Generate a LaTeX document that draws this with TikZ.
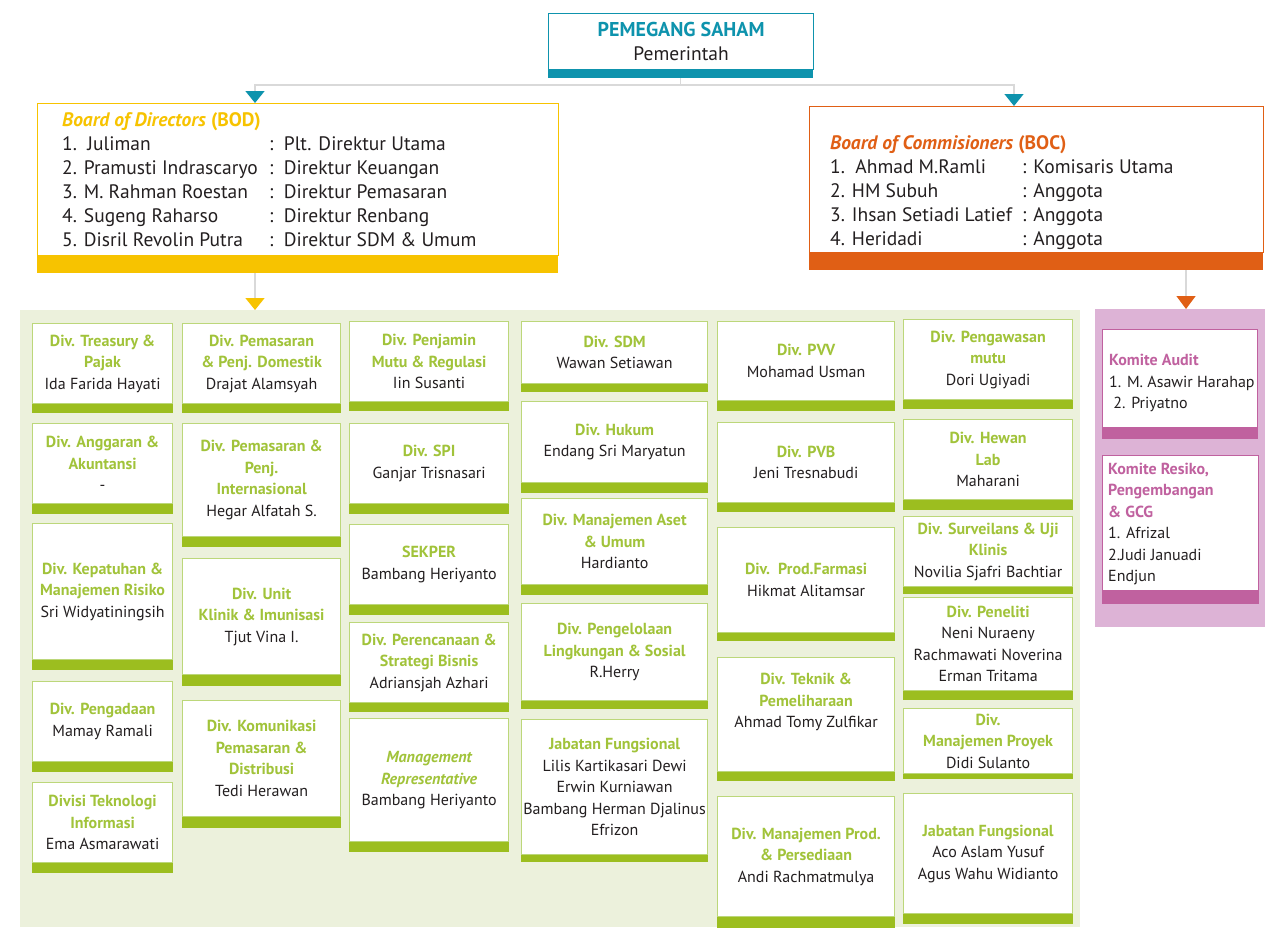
\documentclass[tikz,border=0pt]{standalone}
\usepackage{fontspec}
\setmainfont{PT Sans}
\usetikzlibrary{positioning, arrows.meta}

\definecolor{tealc}{HTML}{0E93AD}
\definecolor{yellowc}{HTML}{F7C300}
\definecolor{orangec}{HTML}{E05F15}
\definecolor{gtext}{HTML}{A1C33A}
\definecolor{gbar}{HTML}{9CBE1F}
\definecolor{gline}{HTML}{BCD77A}
\definecolor{gbg}{HTML}{ECF1DC}
\definecolor{pinkbg}{HTML}{DDB3D6}
\definecolor{pinkc}{HTML}{C0619F}
\definecolor{linec}{HTML}{D9D9D9}
\definecolor{inkc}{HTML}{231F20}

\tikzset{
  conn/.style={draw=linec, line width=1.5pt},
  divbox/.style={draw=gline, line width=1.2pt, fill=white, anchor=north west, align=center,
    inner sep=1pt, text=inkc, font=\fontsize{16}{21.5}\selectfont},
  bigbox/.style={line width=1.2pt, fill=white, anchor=north west, inner sep=0pt},
  kombox/.style={draw=pinkc, line width=1pt, fill=white, anchor=north west, inner sep=0pt},
  bar/.style={anchor=north west, inner sep=0pt, outer sep=0pt},
  listtext/.style={anchor=west, inner sep=0pt, align=left, text=inkc, font=\fontsize{19.5}{24}\selectfont},
  komtext/.style={anchor=west, inner sep=0pt, align=left, text=inkc, font=\fontsize{16}{21.5}\selectfont}
}

\newcommand{\gtl}[1]{\textcolor{gtext}{\bfseries #1}}
\newcommand{\gti}[1]{\textcolor{gtext}{\bfseries\itshape #1}}
\newcommand{\pkt}[1]{\textcolor{pinkc}{\bfseries #1}}
% [bar]{name}{top left}{width}{height}{text}
\newcommand{\divbox}[6][9]{%
  \node[divbox, minimum width=#4pt, minimum height=#5pt] (#2) at (#3) {#6};
  \fill[gbar] (#2.south west) rectangle ([yshift=-#1pt]#2.south east);
}

\begin{document}
\begin{tikzpicture}[x=1pt, y=-1pt]
\useasboundingbox (0,0) rectangle (1281,927);

% areas
\node[bar, fill=gbg, minimum width=1060pt, minimum height=617pt] (divarea) at (20,310) {};
\node[bar, fill=pinkbg, minimum width=170pt, minimum height=318pt] (komarea) at (1095,309) {};

% top
\node[bigbox, draw=tealc, align=center, text=inkc, font=\fontsize{19.5}{24}\selectfont,
  minimum width=265pt, minimum height=56pt] (top) at (548,13)
  {\textcolor{tealc}{\bfseries\fontsize{20}{24}\selectfont PEMEGANG SAHAM}\\Pemerintah};
\node[bar, fill=tealc, minimum width=265pt, minimum height=8pt] (topbar) at (top.south west) {};

% BOD
\node[bigbox, draw=yellowc, minimum width=521pt, minimum height=152pt] (bod) at (37,103) {};
\node[bar, fill=yellowc, minimum width=521pt, minimum height=17pt] (bodbar) at (bod.south west) {};
\node[listtext] (bodlist) at (62,182) {%
  \begin{tabular}{@{}p{207pt}@{}l@{}}
  \multicolumn{2}{@{}l@{}}{\textcolor{yellowc}{\bfseries\itshape Board of Directors} \textcolor{yellowc}{\bfseries (BOD)}}\\
  1.\ \ Juliman & :\ \ Plt. Direktur Utama\\
  2. Pramusti Indrascaryo & :\ \ Direktur Keuangan\\
  3. M. Rahman Roestan & :\ \ Direktur Pemasaran\\
  4. Sugeng Raharso & :\ \ Direktur Renbang\\
  5. Disril Revolin Putra & :\ \ Direktur SDM \& Umum
  \end{tabular}};

% BOC
\node[bigbox, draw=orangec, minimum width=454pt, minimum height=146pt] (boc) at (809,106) {};
\node[bar, fill=orangec, minimum width=454pt, minimum height=17pt] (bocbar) at (boc.south west) {};
\node[listtext] (boclist) at (830,193) {%
  \begin{tabular}{@{}p{192pt}@{}l@{}}
  \multicolumn{2}{@{}l@{}}{\textcolor{orangec}{\bfseries\itshape Board of Commisioners} \textcolor{orangec}{\bfseries (BOC)}}\\
  1.\ \ Ahmad M.Ramli & : Komisaris Utama\\
  2. HM Subuh & : Anggota\\
  3. Ihsan Setiadi Latief & : Anggota\\
  4. Heridadi & : Anggota
  \end{tabular}};

% connectors
\draw[conn, -{Triangle[width=19pt, length=12pt, color=tealc]}]
  (topbar.south) -- ++(0,7) -| ([xshift=218pt]bod.north west);
\draw[conn, -{Triangle[width=19pt, length=12pt, color=tealc]}]
  (topbar.south) -- ++(0,7) -| ([xshift=205pt]boc.north west);
\draw[conn, -{Triangle[width=19pt, length=12pt, color=yellowc]}]
  ([xshift=218pt]bodbar.south west) -- ([xshift=235pt]divarea.north west);
\draw[conn, -{Triangle[width=19pt, length=13pt, color=orangec]}]
  ([xshift=377pt]bocbar.south west) -- ([xshift=91pt]komarea.north west);

% column 1
\divbox{treasury}{32,323}{140}{80}{\gtl{Div. Treasury \&}\\\gtl{Pajak}\\Ida Farida Hayati}
\divbox[10]{anggaran}{32,423}{140}{80}{\gtl{Div. Anggaran \&}\\\gtl{Akuntansi}\\-}
\divbox[10]{kepatuhan}{32,523}{140}{136}{\gtl{Div. Kepatuhan \&}\\\gtl{Manajemen Risiko}\\Sri Widyatiningsih}
\divbox[10]{pengadaan}{32,681}{140}{80}{\gtl{Div. Pengadaan}\\Mamay Ramali}
\divbox[10]{teknologi}{32,782}{140}{80}{\gtl{Divisi Teknologi}\\\gtl{Informasi}\\Ema Asmarawati}

% column 2
\divbox{domestik}{182,323}{158}{80}{\gtl{Div. Pemasaran}\\\gtl{\& Penj. Domestik}\\Drajat Alamsyah}
\divbox[10]{internasional}{182,423}{158}{113}{\gtl{Div. Pemasaran \&}\\\gtl{Penj.}\\\gtl{Internasional}\\Hegar Alfatah S.}
\divbox[11]{klinik}{182,558}{158}{116}{\gtl{Div. Unit}\\\gtl{Klinik \& Imunisasi}\\Tjut Vina I.}
\divbox[11]{komunikasi}{182,700}{158}{116}{\gtl{Div. Komunikasi}\\\gtl{Pemasaran \&}\\\gtl{Distribusi}\\Tedi Herawan}

% column 3
\divbox{penjamin}{349,321}{159}{80}{\gtl{Div. Penjamin}\\\gtl{Mutu \& Regulasi}\\Iin Susanti}
\divbox[10]{spi}{349,423}{159}{80}{\gtl{Div. SPI}\\Ganjar Trisnasari}
\divbox[10]{sekper}{349,524}{159}{80}{\gtl{SEKPER}\\Bambang Heriyanto}
\divbox{perencanaan}{349,622}{159}{80}{\gtl{Div. Perencanaan \&}\\\gtl{Strategi Bisnis}\\Adriansjah Azhari}
\divbox[10]{mgmtrep}{349,718}{159}{123}{\gti{Management}\\\gti{Representative}\\Bambang Heriyanto}

% column 4
\divbox[8]{sdm}{521,321}{186}{62}{\gtl{Div. SDM}\\Wawan Setiawan}
\divbox[10]{hukum}{521,401}{186}{81}{\gtl{Div. Hukum}\\Endang Sri Maryatun}
\divbox[10]{aset}{521,498}{186}{86}{\gtl{Div. Manajemen Aset}\\\gtl{\& Umum}\\Hardianto}
\divbox[8]{pengelolaan}{521,603}{186}{97}{\gtl{Div. Pengelolaan}\\\gtl{Lingkungan \& Sosial}\\R.Herry}
\divbox[7]{jabfung}{521,719}{186}{135}{\gtl{Jabatan Fungsional}\\Lilis Kartikasari Dewi\\Erwin Kurniawan\\Bambang Herman Djalinus\\Efrizon}

% column 5
\divbox[10]{pvv}{717,321}{177}{79}{\gtl{Div. PVV}\\Mohamad Usman}
\divbox{pvb}{717,422}{177}{80}{\gtl{Div. PVB}\\Jeni Tresnabudi}
\divbox[8]{farmasi}{717,527}{177}{105}{\gtl{Div.\ \ Prod.Farmasi}\\Hikmat Alitamsar}
\divbox{teknik}{717,657}{177}{114}{\gtl{Div. Teknik \&}\\\gtl{Pemeliharaan}\\Ahmad Tomy Zulfikar\\\strut}
\divbox[11]{manprod}{717,796}{177}{120}{\gtl{Div. Manajemen Prod.}\\\gtl{\& Persediaan}\\Andi Rachmatmulya}

% column 6
\divbox{pengawasan}{903,319}{169}{80}{\gtl{Div. Pengawasan}\\\gtl{mutu}\\Dori Ugiyadi}
\divbox[10]{hewan}{903,419}{169}{80}{\gtl{Div. Hewan}\\\gtl{Lab}\\Maharani}
\divbox[7]{surveilans}{903,516}{169}{70}{\gtl{Div. Surveilans \& Uji}\\\gtl{Klinis}\\Novilia Sjafri Bachtiar}
\divbox{peneliti}{903,597}{169}{93}{\gtl{Div. Peneliti}\\Neni Nuraeny\\Rachmawati Noverina\\Erman Tritama}
\divbox[5]{proyek}{903,708}{169}{65}{\gtl{Div.}\\\gtl{Manajemen Proyek}\\Didi Sulanto}
\divbox[10]{jabfung2}{903,793}{169}{120}{\gtl{Jabatan Fungsional}\\Aco Aslam Yusuf\\Agus Wahu Widianto}

% komite
\node[kombox, minimum width=155pt, minimum height=98pt] (audit) at (1102,329) {};
\fill[pinkc] (audit.south west) rectangle ([yshift=-11pt]audit.south east);
\node[komtext] (audittext) at (1109,383) {\pkt{Komite Audit}\\1. M. Asawir Harahap\\\ 2. Priyatno};
\node[kombox, minimum width=156pt, minimum height=135pt] (resiko) at (1102,455) {};
\fill[pinkc] (resiko.south west) rectangle ([yshift=-13pt]resiko.south east);
\node[komtext] (resikotext) at (1108,524) {\pkt{Komite Resiko,}\\\pkt{Pengembangan}\\\pkt{\& GCG}\\1. Afrizal\\2.Judi Januadi\\Endjun};
\end{tikzpicture}
\end{document}
